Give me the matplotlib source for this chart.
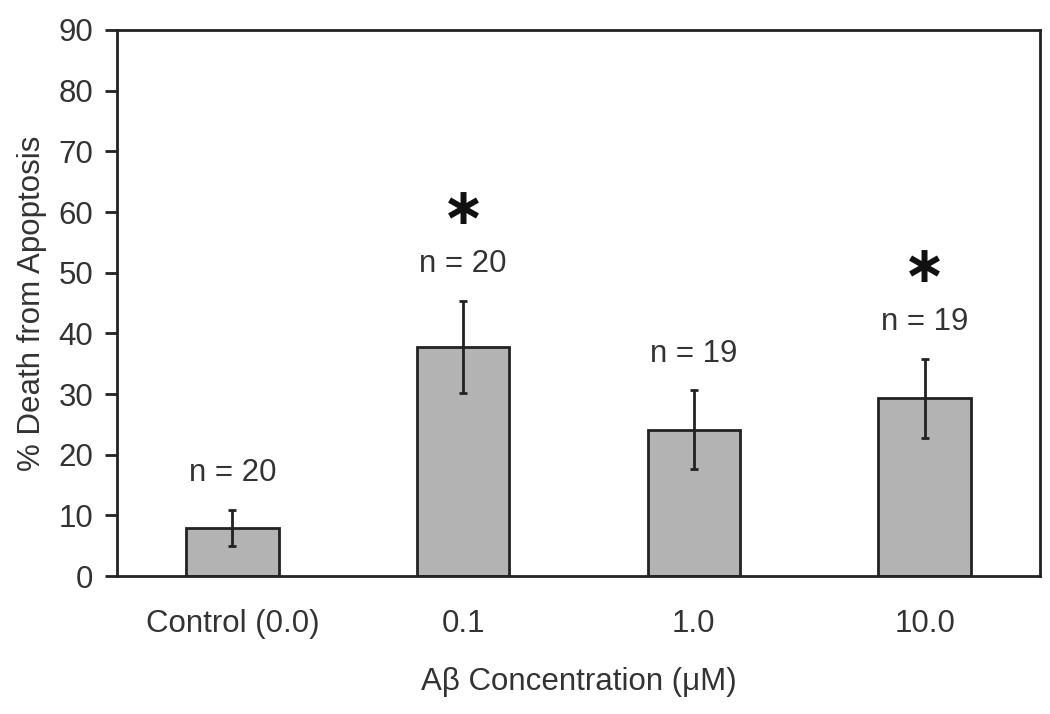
import numpy as np
import matplotlib
matplotlib.use("Agg")
import matplotlib.pyplot as plt

plt.rcParams['font.family'] = ['Liberation Sans', 'DejaVu Sans']

# data
categories = ["Control (0.0)", "0.1", "1.0", "10.0"]
death_pct = [7.9, 37.8, 24.1, 29.3]
err = [3.0, 7.6, 6.5, 6.5]
n_labels = ["n = 20", "n = 20", "n = 19", "n = 19"]
significant = [False, True, False, True]

TEXT = "#333333"
LINE = "#222222"
FS = 22.5

fig = plt.figure(figsize=(10.5, 7.14), dpi=100)
ax = fig.add_axes([117/1050, 1 - 576/714, (1040 - 117)/1050, (576 - 30)/714])

x = np.arange(len(categories))
ax.bar(x, death_pct, width=0.40, color="#b3b3b3", edgecolor=LINE, linewidth=2, zorder=2)
ax.errorbar(x, death_pct, yerr=err, fmt="none", ecolor=LINE, elinewidth=2,
            capsize=3, capthick=2, zorder=3)

# n labels and significance stars above each bar
for xi, top, lab, sig in zip(x, np.array(death_pct) + np.array(err), n_labels, significant):
    ty = top + 6.0
    ax.text(xi, ty, lab, ha="center", va="center", fontsize=FS, color=TEXT)
    if sig:
        ax.text(xi, ty + 8.9, "\u2217", ha="center", va="center", fontsize=37,
                fontweight="bold", family="DejaVu Sans", color="#111111")

ax.set_xlim(-0.5, 3.5)
ax.set_ylim(0, 90)
ax.set_yticks(np.arange(0, 91, 10))
ax.set_xticks(x)
ax.set_xticklabels(categories)
ax.tick_params(axis="y", direction="out", length=9, width=2, color=LINE,
               labelsize=FS, labelcolor=TEXT, pad=8)
ax.tick_params(axis="x", length=0, labelsize=FS, labelcolor=TEXT, pad=24)
for s in ax.spines.values():
    s.set_linewidth(2)
    s.set_color(LINE)

ax.set_ylabel("% Death from Apoptosis", fontsize=FS, color=TEXT, labelpad=8)
ax.set_xlabel("A\u03b2 Concentration (\u03bcM)", fontsize=FS, color=TEXT, labelpad=20)

fig.savefig("out.png", dpi=100)
